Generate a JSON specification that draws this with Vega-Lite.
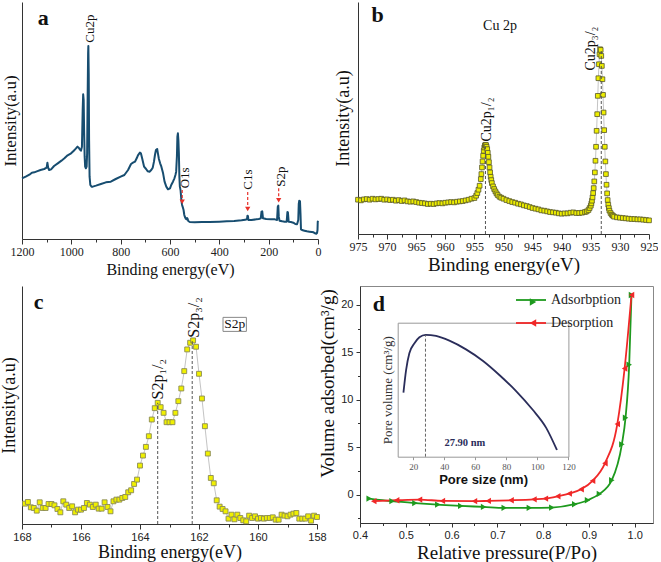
{
"$schema": "https://vega.github.io/schema/vega-lite/v6.json",
"background": "white",
"padding": {"left": 0, "top": 2, "right": 0, "bottom": 0},
"config": {
  "view": {"stroke": null},
  "font": "Liberation Serif",
  "axis": {"grid": false, "domainColor": "#333", "tickColor": "#333", "labelColor": "#222", "titleColor": "#111", "titleFontWeight": "normal", "titleFont": "Liberation Serif", "labelFont": "Liberation Serif", "labelFlush": false}
},
"spacing": 6,
"vconcat": [
{"hconcat": [
{
 "width": 296, "height": 237,
 "layer": [
  {"data": {"values": [
{"be":1200,"i":182},{"be":1185,"i":187},{"be":1170,"i":193},{"be":1160,"i":199},{"be":1150,"i":200},{"be":1140,"i":203},{"be":1125,"i":207},{"be":1110,"i":210},{"be":1100,"i":214},{"be":1097,"i":229},{"be":1094,"i":214},{"be":1090,"i":207},{"be":1082,"i":209},{"be":1070,"i":219},{"be":1055,"i":227},{"be":1040,"i":235},{"be":1028,"i":242},{"be":1015,"i":251},{"be":1001,"i":257},{"be":990,"i":265},{"be":982,"i":271},{"be":975,"i":277},{"be":970,"i":274},{"be":966,"i":269},{"be":961,"i":265},{"be":957,"i":277},{"be":954,"i":387},{"be":952,"i":434},{"be":950,"i":417},{"be":948,"i":317},{"be":946,"i":247},{"be":944,"i":217},{"be":941,"i":212},{"be":938,"i":217},{"be":936,"i":257},{"be":934,"i":417},{"be":932,"i":557},{"be":931,"i":579},{"be":929.5,"i":497},{"be":928,"i":297},{"be":926,"i":187},{"be":923,"i":162},{"be":918,"i":157},{"be":913,"i":157},{"be":900,"i":160},{"be":880,"i":165},{"be":860,"i":170},{"be":840,"i":172},{"be":820,"i":180},{"be":800,"i":187},{"be":785,"i":192},{"be":770,"i":207},{"be":758,"i":225},{"be":750,"i":229},{"be":742,"i":232},{"be":735,"i":242},{"be":730,"i":251},{"be":722,"i":259},{"be":718,"i":257},{"be":713,"i":242},{"be":705,"i":217},{"be":697,"i":210},{"be":690,"i":203},{"be":683,"i":202},{"be":676,"i":207},{"be":670,"i":214},{"be":665,"i":232},{"be":661,"i":252},{"be":657,"i":267},{"be":652,"i":270},{"be":649,"i":257},{"be":645,"i":240},{"be":640,"i":227},{"be":635,"i":217},{"be":628,"i":197},{"be":622,"i":172},{"be":615,"i":157},{"be":608,"i":149},{"be":600,"i":152},{"be":595,"i":162},{"be":588,"i":172},{"be":582,"i":182},{"be":578,"i":192},{"be":575,"i":202},{"be":572,"i":247},{"be":570,"i":307},{"be":568,"i":317},{"be":566,"i":297},{"be":564,"i":257},{"be":562,"i":187},{"be":560,"i":157},{"be":557,"i":145},{"be":554,"i":117},{"be":551,"i":102},{"be":548,"i":95},{"be":545,"i":87},{"be":542,"i":72},{"be":539,"i":65},{"be":536,"i":61},{"be":533,"i":59},{"be":531,"i":63},{"be":529,"i":61},{"be":526,"i":54},{"be":520,"i":51},{"be":500,"i":50},{"be":470,"i":51},{"be":440,"i":51},{"be":400,"i":52},{"be":370,"i":53},{"be":340,"i":54},{"be":310,"i":56},{"be":295,"i":58},{"be":288,"i":59},{"be":286,"i":70},{"be":284,"i":69},{"be":282,"i":57},{"be":270,"i":57},{"be":250,"i":59},{"be":240,"i":60},{"be":232,"i":62},{"be":229,"i":82},{"be":226,"i":83},{"be":223,"i":62},{"be":210,"i":60},{"be":190,"i":59},{"be":175,"i":59},{"be":166,"i":57},{"be":163,"i":97},{"be":161,"i":100},{"be":159,"i":67},{"be":156,"i":55},{"be":145,"i":53},{"be":135,"i":52},{"be":127,"i":52},{"be":124,"i":81},{"be":122,"i":80},{"be":119,"i":52},{"be":110,"i":51},{"be":100,"i":49},{"be":92,"i":45},{"be":85,"i":44},{"be":80,"i":57},{"be":78,"i":105},{"be":76,"i":115},{"be":73,"i":113},{"be":71,"i":77},{"be":69,"i":29},{"be":65,"i":27},{"be":55,"i":25},{"be":45,"i":23},{"be":35,"i":22},{"be":25,"i":21},{"be":18,"i":20},{"be":12,"i":17},{"be":7,"i":16},{"be":4,"i":18},{"be":2,"i":27},{"be":1,"i":52},{"be":0,"i":55}
  ]},
   "mark": {"type": "line", "color": "#174d70", "strokeWidth": 2, "strokeJoin": "round"},
   "encoding": {
    "x": {"field": "be", "type": "quantitative", "scale": {"domain": [0, 1200], "reverse": true, "nice": false, "zero": false},
      "axis": {"orient": "bottom", "values": [0,200,400,600,800,1000,1200], "format": "d", "labelFont": "Liberation Serif", "labelFontSize": 12, "tickSize": 5, "labelPadding": 2, "title": "Binding energy(eV)", "titleFont": "Liberation Serif", "titleFontWeight": "normal", "titleFontSize": 16, "titlePadding": 4}},
    "y": {"field": "i", "type": "quantitative", "scale": {"domain": [0, 711], "nice": false, "zero": false},
      "axis": {"orient": "left", "labels": false, "ticks": false, "title": "Intensity(a.u)", "titleFont": "Liberation Serif", "titleFontWeight": "normal", "titleFontSize": 17, "titlePadding": 3}}
   }},
  {"data": {"values": [{"be":922.6,"i":589,"t":"Cu2p"},{"be":538,"i":152,"t":"O1s"},{"be":284,"i":148,"t":"C1s"},{"be":148.6,"i":157,"t":"S2p"}]},
   "mark": {"type": "text", "angle": 270, "align": "left", "baseline": "middle", "fontSize": 13, "font": "Liberation Serif", "color": "#111"},
   "encoding": {
    "x": {"field": "be", "type": "quantitative", "axis": {"orient": "bottom", "values": [100,300,500,700,900,1100], "labels": false, "domain": false, "tickSize": 3, "title": null}},
    "y": {"field": "i", "type": "quantitative", "axis": null},
    "text": {"field": "t", "type": "nominal"}
   }},
  {"data": {"values": [{"be":550.5,"y1":147,"y2":112},{"be":285,"y1":141,"y2":90},{"be":159.4,"y1":152,"y2":116}]},
   "mark": {"type": "rule", "color": "#e8312a", "strokeDash": [3,2], "strokeWidth": 1.2},
   "encoding": {"x": {"field": "be", "type": "quantitative", "axis": null}, "y": {"field": "y1", "type": "quantitative", "axis": null}, "y2": {"field": "y2"}}},
  {"data": {"values": [{"be":550.5,"y2":112},{"be":285,"y2":90},{"be":159.4,"y2":116}]},
   "mark": {"type": "point", "shape": "triangle-down", "filled": true, "color": "#e8312a", "size": 28, "opacity": 1},
   "encoding": {"x": {"field": "be", "type": "quantitative", "axis": null}, "y": {"field": "y2", "type": "quantitative", "axis": null}}},
  {"data": {"values": [{"be":1136,"i":642,"t":"a"}]},
   "mark": {"type": "text", "align": "left", "baseline": "alphabetic", "fontSize": 22, "fontWeight": "bold", "font": "Liberation Serif", "color": "#111"},
   "encoding": {"x": {"field": "be", "type": "quantitative", "axis": null}, "y": {"field": "i", "type": "quantitative", "axis": null}, "text": {"field": "t", "type": "nominal"}}}
 ],
 "resolve": {"axis": {"x": "independent", "y": "independent"}}
},
{
 "width": 291, "height": 232,
 "data": {"values": [
{"be":975.0,"i":103},{"be":974.5,"i":101},{"be":974.0,"i":104},{"be":973.5,"i":105},{"be":973.0,"i":103},{"be":972.5,"i":106},{"be":972.0,"i":104},{"be":971.5,"i":105},{"be":971.0,"i":106},{"be":970.5,"i":103},{"be":970.0,"i":104},{"be":969.5,"i":102},{"be":969.0,"i":103},{"be":968.5,"i":100},{"be":968.0,"i":102},{"be":967.5,"i":99},{"be":967.0,"i":101},{"be":966.5,"i":98},{"be":966.0,"i":97},{"be":965.5,"i":98},{"be":965.0,"i":96},{"be":964.5,"i":94},{"be":964.0,"i":93},{"be":963.5,"i":92},{"be":963.0,"i":90},{"be":962.5,"i":91},{"be":962.0,"i":90},{"be":961.5,"i":92},{"be":961.0,"i":93},{"be":960.5,"i":92},{"be":960.0,"i":94},{"be":959.5,"i":95},{"be":959.0,"i":96},{"be":958.5,"i":95},{"be":958.0,"i":97},{"be":957.5,"i":98},{"be":957.0,"i":99},{"be":956.5,"i":101},{"be":956.0,"i":103},{"be":955.5,"i":106},{"be":955.0,"i":108},{"be":954.7,"i":115},{"be":954.5,"i":123},{"be":954.3,"i":133},{"be":954.1,"i":145},{"be":953.9,"i":165},{"be":953.8,"i":180},{"be":953.7,"i":200},{"be":953.6,"i":218},{"be":953.5,"i":235},{"be":953.4,"i":250},{"be":953.3,"i":260},{"be":953.2,"i":266},{"be":953.1,"i":268},{"be":953.0,"i":267},{"be":952.9,"i":262},{"be":952.8,"i":255},{"be":952.7,"i":244},{"be":952.6,"i":232},{"be":952.5,"i":216},{"be":952.4,"i":200},{"be":952.3,"i":185},{"be":952.2,"i":172},{"be":952.1,"i":162},{"be":952.0,"i":153},{"be":951.8,"i":143},{"be":951.6,"i":135},{"be":951.4,"i":128},{"be":951.2,"i":122},{"be":951.0,"i":117},{"be":950.7,"i":112},{"be":950.4,"i":109},{"be":950.0,"i":106},{"be":949.5,"i":102},{"be":949.0,"i":99},{"be":948.5,"i":96},{"be":948.0,"i":94},{"be":947.5,"i":91},{"be":947.0,"i":89},{"be":946.5,"i":86},{"be":946.0,"i":84},{"be":945.5,"i":81},{"be":945.0,"i":78},{"be":944.5,"i":76},{"be":944.0,"i":74},{"be":943.5,"i":71},{"be":943.0,"i":70},{"be":942.5,"i":68},{"be":942.0,"i":66},{"be":941.5,"i":65},{"be":941.0,"i":64},{"be":940.5,"i":62},{"be":940.0,"i":61},{"be":939.5,"i":62},{"be":939.0,"i":62},{"be":938.5,"i":64},{"be":938.0,"i":65},{"be":937.5,"i":63},{"be":937.0,"i":63},{"be":936.5,"i":64},{"be":936.0,"i":66},{"be":935.7,"i":68},{"be":935.4,"i":72},{"be":935.2,"i":78},{"be":935.0,"i":85},{"be":934.9,"i":92},{"be":934.8,"i":100},{"be":934.7,"i":110},{"be":934.6,"i":123},{"be":934.5,"i":138},{"be":934.4,"i":158},{"be":934.3,"i":185},{"be":934.2,"i":220},{"be":934.1,"i":262},{"be":934.0,"i":310},{"be":933.9,"i":360},{"be":933.8,"i":415},{"be":933.7,"i":468},{"be":933.6,"i":510},{"be":933.5,"i":540},{"be":933.4,"i":555},{"be":933.3,"i":553},{"be":933.2,"i":535},{"be":933.1,"i":505},{"be":933.0,"i":465},{"be":932.9,"i":418},{"be":932.8,"i":365},{"be":932.7,"i":312},{"be":932.6,"i":262},{"be":932.5,"i":218},{"be":932.4,"i":180},{"be":932.3,"i":148},{"be":932.2,"i":122},{"be":932.1,"i":102},{"be":932.0,"i":88},{"be":931.9,"i":78},{"be":931.8,"i":70},{"be":931.6,"i":63},{"be":931.4,"i":58},{"be":931.2,"i":55},{"be":931.0,"i":52},{"be":930.5,"i":50},{"be":930.0,"i":49},{"be":929.5,"i":48},{"be":929.0,"i":47},{"be":928.5,"i":46},{"be":928.0,"i":45},{"be":927.5,"i":45},{"be":927.0,"i":44},{"be":926.5,"i":44},{"be":926.0,"i":43},{"be":925.5,"i":42},{"be":925.0,"i":41}
 ]},
 "layer": [
  {"mark": {"type": "line", "color": "#b5b5b5", "strokeWidth": 0.8},
   "encoding": {
    "x": {"field": "be", "type": "quantitative", "scale": {"domain": [925, 975], "reverse": true, "nice": false, "zero": false},
      "axis": {"orient": "bottom", "values": [925,930,935,940,945,950,955,960,965,970,975], "labelFont": "Liberation Serif", "labelFontSize": 12, "tickSize": 5, "labelPadding": 2, "title": "Binding energy(eV)", "titleFont": "Liberation Serif", "titleFontWeight": "normal", "titleFontSize": 19, "titlePadding": 3}},
    "y": {"field": "i", "type": "quantitative", "scale": {"domain": [0, 697], "nice": false, "zero": false},
      "axis": {"orient": "left", "labels": false, "ticks": false, "title": "Intensity(a.u)", "titleFont": "Liberation Serif", "titleFontWeight": "normal", "titleFontSize": 18, "titlePadding": 6}}
   }},
  {"mark": {"type": "point", "shape": "square", "filled": true, "fill": "#eeee00", "stroke": "#55552a", "strokeWidth": 0.8, "size": 22, "opacity": 1},
   "encoding": {"x": {"field": "be", "type": "quantitative", "axis": null}, "y": {"field": "i", "type": "quantitative", "axis": null}}},
  {"data": {"values": [{"be":953.1,"top":263,"base":0},{"be":933.2,"top":550,"base":0}]},
   "mark": {"type": "rule", "color": "#555", "strokeDash": [3,2], "strokeWidth": 1},
   "encoding": {"x": {"field": "be", "type": "quantitative", "axis": {"orient": "bottom", "values": [927.5,932.5,937.5,942.5,947.5,952.5,957.5,962.5,967.5,972.5], "labels": false, "domain": false, "tickSize": 3, "title": null}}, "y": {"field": "base", "type": "quantitative", "axis": null}, "y2": {"field": "top"}}},
  {"data": {"values": [{"be":952.9,"i":278,"t":"Cu2p₁/₂"},{"be":935.0,"i":491,"t":"Cu2p₃/₂"}]},
   "mark": {"type": "text", "angle": 270, "align": "left", "baseline": "middle", "fontSize": 14, "font": "Liberation Serif", "color": "#111"},
   "encoding": {"x": {"field": "be", "type": "quantitative", "axis": null}, "y": {"field": "i", "type": "quantitative", "axis": null}, "text": {"field": "t", "type": "nominal"}}},
  {"data": {"values": [{"be":950.6,"i":613,"t":"Cu 2p"}]},
   "mark": {"type": "text", "align": "center", "baseline": "alphabetic", "fontSize": 14, "font": "Liberation Serif", "color": "#111"},
   "encoding": {"x": {"field": "be", "type": "quantitative", "axis": null}, "y": {"field": "i", "type": "quantitative", "axis": null}, "text": {"field": "t", "type": "nominal"}}},
  {"data": {"values": [{"be":972.7,"i":638,"t":"b"}]},
   "mark": {"type": "text", "align": "left", "baseline": "alphabetic", "fontSize": 22, "fontWeight": "bold", "font": "Liberation Serif", "color": "#111"},
   "encoding": {"x": {"field": "be", "type": "quantitative", "axis": null}, "y": {"field": "i", "type": "quantitative", "axis": null}, "text": {"field": "t", "type": "nominal"}}}
 ],
 "resolve": {"axis": {"x": "independent", "y": "independent"}}
}
], "spacing": 13},
{"hconcat": [
{
 "width": 295, "height": 238,
 "data": {"values": [
{"be":167.9,"i":61},{"be":167.8,"i":66},{"be":167.7,"i":50},{"be":167.6,"i":48},{"be":167.5,"i":40},{"be":167.4,"i":65},{"be":167.3,"i":48},{"be":167.2,"i":48},{"be":167.1,"i":60},{"be":167.0,"i":60},{"be":166.9,"i":56},{"be":166.8,"i":45},{"be":166.7,"i":35},{"be":166.6,"i":68},{"be":166.5,"i":58},{"be":166.4,"i":48},{"be":166.3,"i":53},{"be":166.2,"i":35},{"be":166.1,"i":43},{"be":166.0,"i":43},{"be":165.9,"i":48},{"be":165.8,"i":63},{"be":165.7,"i":58},{"be":165.6,"i":51},{"be":165.5,"i":58},{"be":165.4,"i":46},{"be":165.3,"i":46},{"be":165.2,"i":65},{"be":165.1,"i":51},{"be":165.0,"i":38},{"be":164.9,"i":68},{"be":164.8,"i":73},{"be":164.7,"i":73},{"be":164.6,"i":78},{"be":164.5,"i":81},{"be":164.4,"i":95},{"be":164.3,"i":101},{"be":164.2,"i":120},{"be":164.1,"i":133},{"be":164.0,"i":175},{"be":163.9,"i":205},{"be":163.8,"i":231},{"be":163.7,"i":263},{"be":163.6,"i":313},{"be":163.5,"i":347},{"be":163.4,"i":363},{"be":163.3,"i":350},{"be":163.2,"i":333},{"be":163.1,"i":305},{"be":163.0,"i":305},{"be":162.9,"i":305},{"be":162.8,"i":333},{"be":162.7,"i":368},{"be":162.6,"i":406},{"be":162.5,"i":458},{"be":162.4,"i":523},{"be":162.3,"i":543},{"be":162.2,"i":550},{"be":162.1,"i":531},{"be":162.0,"i":450},{"be":161.9,"i":376},{"be":161.8,"i":293},{"be":161.7,"i":211},{"be":161.6,"i":138},{"be":161.5,"i":122},{"be":161.4,"i":71},{"be":161.3,"i":52},{"be":161.2,"i":45},{"be":161.1,"i":38},{"be":161.0,"i":16},{"be":160.9,"i":28},{"be":160.8,"i":14},{"be":160.7,"i":28},{"be":160.6,"i":18},{"be":160.5,"i":11},{"be":160.4,"i":8},{"be":160.3,"i":25},{"be":160.2,"i":18},{"be":160.1,"i":23},{"be":160.0,"i":16},{"be":159.9,"i":18},{"be":159.8,"i":16},{"be":159.7,"i":18},{"be":159.6,"i":18},{"be":159.5,"i":20},{"be":159.4,"i":13},{"be":159.3,"i":13},{"be":159.2,"i":28},{"be":159.1,"i":25},{"be":159.0,"i":23},{"be":158.9,"i":28},{"be":158.8,"i":31},{"be":158.7,"i":33},{"be":158.6,"i":16},{"be":158.5,"i":16},{"be":158.4,"i":16},{"be":158.3,"i":23},{"be":158.2,"i":10},{"be":158.1,"i":25},{"be":158.0,"i":21}
 ]},
 "layer": [
  {"mark": {"type": "line", "color": "#c4c4c4", "strokeWidth": 1},
   "encoding": {
    "x": {"field": "be", "type": "quantitative", "scale": {"domain": [158, 168], "reverse": true, "nice": false, "zero": false},
      "axis": {"orient": "bottom", "values": [158,160,162,164,166,168], "labelFont": "Liberation Sans", "labelFontSize": 11, "tickSize": 5, "labelPadding": 2, "title": "Binding energy(eV)", "titleFont": "Liberation Serif", "titleFontWeight": "normal", "titleFontSize": 18, "titlePadding": 1}},
    "y": {"field": "i", "type": "quantitative", "scale": {"domain": [0, 713], "nice": false, "zero": false},
      "axis": {"orient": "left", "labels": false, "ticks": false, "title": "Intensity(a.u)", "titleFont": "Liberation Serif", "titleFontWeight": "normal", "titleFontSize": 18, "titlePadding": 4}}
   }},
  {"mark": {"type": "point", "shape": "square", "filled": true, "fill": "#f0f000", "stroke": "#8a8a55", "strokeWidth": 0.9, "size": 24, "opacity": 1},
   "encoding": {"x": {"field": "be", "type": "quantitative", "axis": null}, "y": {"field": "i", "type": "quantitative", "axis": null}}},
  {"data": {"values": [{"be":163.4,"top":363,"base":0},{"be":162.23,"top":548,"base":0}]},
   "mark": {"type": "rule", "color": "#555", "strokeDash": [3,2], "strokeWidth": 1},
   "encoding": {"x": {"field": "be", "type": "quantitative", "axis": {"orient": "bottom", "values": [159,161,163,165,167], "labels": false, "domain": false, "tickSize": 3, "title": null}}, "y": {"field": "base", "type": "quantitative", "axis": null}, "y2": {"field": "top"}}},
  {"data": {"values": [{"be":163.4,"i":373,"t":"S2p₁/₂"},{"be":162.18,"i":558,"t":"S2p₃/₂"}]},
   "mark": {"type": "text", "angle": 270, "align": "left", "baseline": "middle", "fontSize": 16, "font": "Liberation Serif", "color": "#111"},
   "encoding": {"x": {"field": "be", "type": "quantitative", "axis": null}, "y": {"field": "i", "type": "quantitative", "axis": null}, "text": {"field": "t", "type": "nominal"}}},
  {"data": {"values": [{"be":160.79,"i":598}]},
   "mark": {"type": "point", "shape": "M-1,-0.6H1V0.6H-1Z", "filled": false, "stroke": "#888", "strokeWidth": 1, "size": 547, "opacity": 1},
   "encoding": {"x": {"field": "be", "type": "quantitative", "axis": null}, "y": {"field": "i", "type": "quantitative", "axis": null}}},
  {"data": {"values": [{"be":160.79,"i":598,"t":"S2p"}]},
   "mark": {"type": "text", "align": "center", "baseline": "middle", "fontSize": 13.5, "font": "Liberation Serif", "color": "#111"},
   "encoding": {"x": {"field": "be", "type": "quantitative", "axis": null}, "y": {"field": "i", "type": "quantitative", "axis": null}, "text": {"field": "t", "type": "nominal"}}},
  {"data": {"values": [{"be":167.6,"i":643,"t":"c"}]},
   "mark": {"type": "text", "align": "left", "baseline": "alphabetic", "fontSize": 22, "fontWeight": "bold", "font": "Liberation Serif", "color": "#111"},
   "encoding": {"x": {"field": "be", "type": "quantitative", "axis": null}, "y": {"field": "i", "type": "quantitative", "axis": null}, "text": {"field": "t", "type": "nominal"}}}
 ],
 "resolve": {"axis": {"x": "independent", "y": "independent"}}
},
{
 "width": 293, "height": 237,
 "view": {"stroke": "#888", "strokeWidth": 1},
 "layer": [
  {"data": {"values": [
{"s":"Adsorbption","p":0.42,"v":-0.42},{"s":"Adsorbption","p":0.47,"v":-0.7},{"s":"Adsorbption","p":0.52,"v":-0.9},{"s":"Adsorbption","p":0.57,"v":-1.06},{"s":"Adsorbption","p":0.62,"v":-1.2},{"s":"Adsorbption","p":0.67,"v":-1.3},{"s":"Adsorbption","p":0.715,"v":-1.4},{"s":"Adsorbption","p":0.77,"v":-1.4},{"s":"Adsorbption","p":0.819,"v":-1.37},{"s":"Adsorbption","p":0.869,"v":-1.02},{"s":"Adsorbption","p":0.897,"v":-0.6},{"s":"Adsorbption","p":0.923,"v":0.07},{"s":"Adsorbption","p":0.95,"v":1.51},{"s":"Adsorbption","p":0.972,"v":5.3},{"s":"Adsorbption","p":0.98,"v":8.1},{"s":"Adsorbption","p":0.988,"v":13.7},{"s":"Adsorbption","p":0.993,"v":21.05},
{"s":"Desorption","p":0.43,"v":-0.7},{"s":"Desorption","p":0.48,"v":-0.6},{"s":"Desorption","p":0.53,"v":-0.53},{"s":"Desorption","p":0.58,"v":-0.67},{"s":"Desorption","p":0.65,"v":-0.7},{"s":"Desorption","p":0.68,"v":-0.67},{"s":"Desorption","p":0.73,"v":-0.6},{"s":"Desorption","p":0.78,"v":-0.5},{"s":"Desorption","p":0.805,"v":-0.42},{"s":"Desorption","p":0.832,"v":-0.18},{"s":"Desorption","p":0.857,"v":0.1},{"s":"Desorption","p":0.883,"v":0.56},{"s":"Desorption","p":0.908,"v":1.45},{"s":"Desorption","p":0.935,"v":3.3},{"s":"Desorption","p":0.962,"v":7.43},{"s":"Desorption","p":0.978,"v":13.3},{"s":"Desorption","p":0.993,"v":21.05}
  ]},
   "layer": [
    {"mark": {"type": "line", "interpolate": "monotone", "strokeWidth": 1.8},
     "encoding": {
      "x": {"field": "p", "type": "quantitative", "scale": {"domain": [0.4, 1.04], "nice": false, "zero": false},
        "axis": {"orient": "bottom", "values": [0.4,0.5,0.6,0.7,0.8,0.9,1.0], "format": ".1f", "labelFont": "Liberation Sans", "labelFontSize": 11, "tickSize": 4, "labelPadding": 2, "title": "Relative pressure(P/Po)", "titleFont": "Liberation Serif", "titleFontWeight": "normal", "titleFontSize": 19, "titlePadding": 3}},
      "y": {"field": "v", "type": "quantitative", "scale": {"domain": [-3, 22], "nice": false, "zero": false},
        "axis": {"orient": "left", "values": [0,5,10,15,20], "format": "d", "labelFont": "Liberation Sans", "labelFontSize": 11, "tickSize": 4, "labelPadding": 3, "title": "Volume adsorbed(cm³/g)", "titleFont": "Liberation Serif", "titleFontWeight": "normal", "titleFontSize": 19, "titleX": -23, "titleY": 97}},
      "color": {"field": "s", "type": "nominal", "scale": {"domain": ["Adsorbption", "Desorption"], "range": ["#1e9a1e", "#f02828"]},
        "legend": {"orient": "none", "legendX": 155, "legendY": -2, "title": null, "labelFont": "Liberation Serif", "labelFontSize": 14, "labelColor": "#222", "symbolType": "stroke", "symbolSize": 900, "symbolStrokeWidth": 1.8, "labelOffset": 4, "rowPadding": -22}}
     }},
    {"mark": {"type": "point", "filled": true, "size": 40, "opacity": 1},
     "encoding": {
      "x": {"field": "p", "type": "quantitative", "axis": {"orient": "bottom", "values": [0.45,0.55,0.65,0.75,0.85,0.95], "labels": false, "domain": false, "tickSize": 2.5, "title": null}},
      "y": {"field": "v", "type": "quantitative", "axis": {"orient": "left", "values": [-2.5,2.5,7.5,12.5,17.5], "labels": false, "domain": false, "tickSize": 2.5, "title": null}},
      "color": {"field": "s", "type": "nominal", "legend": {"orient": "none", "legendX": 166, "legendY": 9, "title": null, "labelFont": "Liberation Serif", "labelFontSize": 14, "labelExpr": "' '", "symbolSize": 55, "rowPadding": 7}},
      "shape": {"field": "s", "type": "nominal", "scale": {"domain": ["Adsorbption", "Desorption"], "range": ["triangle-right", "triangle-left"]}, "legend": {"orient": "none", "legendX": 166, "legendY": 9, "title": null, "labelFont": "Liberation Serif", "labelFontSize": 14, "labelExpr": "' '", "symbolSize": 55, "rowPadding": 7}}
     }},
    {"data": {"values": [{"p":0.428,"v":19.33,"t":"d"}]},
     "mark": {"type": "text", "align": "left", "baseline": "alphabetic", "fontSize": 22, "fontWeight": "bold", "font": "Liberation Serif", "color": "#111"},
     "encoding": {"x": {"field": "p", "type": "quantitative", "axis": null}, "y": {"field": "v", "type": "quantitative", "axis": null}, "text": {"field": "t", "type": "nominal"}}}
   ],
   "resolve": {"axis": {"x": "independent", "y": "independent"}, "legend": {"color": "independent", "shape": "independent"}}
  },
  {"layer": [
    {"data": {"values": [{"d":13.7,"v":0.478},{"d":15.4,"v":0.647},{"d":17.5,"v":0.772},{"d":20.8,"v":0.846},{"d":24,"v":0.891},{"d":28,"v":0.909},{"d":34.7,"v":0.901},{"d":43.3,"v":0.866},{"d":54,"v":0.801},{"d":64.8,"v":0.716},{"d":75.5,"v":0.61},{"d":86.3,"v":0.49},{"d":97,"v":0.35},{"d":105.7,"v":0.215},{"d":112.6,"v":0.05}]},
     "mark": {"type": "line", "color": "#2a2d5a", "strokeWidth": 1.8, "interpolate": "monotone"},
     "encoding": {
      "x": {"field": "d", "type": "quantitative", "scale": {"domain": [10, 120], "range": [37.7, 208.4], "nice": false, "zero": false},
        "axis": {"orient": "bottom", "offset": -66.3, "values": [20,40,60,80,100,120], "labelFont": "Liberation Serif", "labelFontSize": 9, "labelColor": "#555", "tickSize": 3, "tickColor": "#999", "domainColor": "#999", "labelPadding": 3, "title": "Pore size (nm)", "titleFont": "Liberation Sans", "titleFontWeight": "bold", "titleFontSize": 13, "titlePadding": 2}},
      "y": {"field": "v", "type": "quantitative", "scale": {"domain": [0, 1], "range": [170.7, 36.7], "nice": false, "zero": false},
        "axis": {"orient": "left", "offset": -37.7, "labels": false, "ticks": false, "domainColor": "#999", "title": "Pore volume (cm³/g)", "titleFont": "Liberation Serif", "titleFontWeight": "normal", "titleFontSize": 13, "titleColor": "#333", "titlePadding": 3}}
     }},
    {"data": {"values": [{"d":27.9,"top":0.909,"base":0}]},
     "mark": {"type": "rule", "color": "#666", "strokeDash": [3,2], "strokeWidth": 1},
     "encoding": {
      "x": {"field": "d", "type": "quantitative", "axis": {"orient": "top", "offset": -36.7, "labels": false, "ticks": false, "domainColor": "#999", "title": null}},
      "y": {"field": "base", "type": "quantitative", "axis": {"orient": "right", "offset": -84.6, "labels": false, "ticks": false, "domainColor": "#999", "title": null}},
      "y2": {"field": "top"}}},
    {"data": {"values": [{"d":40.1,"v":0.1,"t":"27.90 nm"}]},
     "mark": {"type": "text", "align": "left", "baseline": "middle", "fontSize": 10.5, "fontWeight": "bold", "font": "Liberation Serif", "color": "#2a2d5a"},
     "encoding": {"x": {"field": "d", "type": "quantitative", "axis": null}, "y": {"field": "v", "type": "quantitative", "axis": null}, "text": {"field": "t", "type": "nominal"}}}
  ],
  "resolve": {"axis": {"x": "independent", "y": "independent"}}}
 ],
 "resolve": {"scale": {"x": "independent", "y": "independent", "color": "independent", "shape": "independent"}, "axis": {"x": "independent", "y": "independent"}}
}
], "spacing": -10}
]
}
